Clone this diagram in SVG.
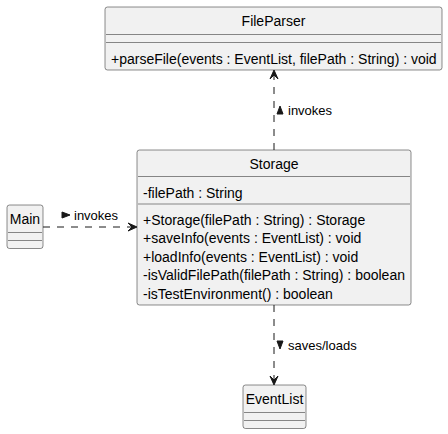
<svg xmlns="http://www.w3.org/2000/svg" width="448" height="434" viewBox="0 0 448 434">
<style>
.box{fill:#F1F1F1;stroke:#181818;stroke-width:0.5}
.sep{stroke:#181818;stroke-width:0.5}
.t{font-family:"Liberation Sans",Arial,sans-serif;font-size:14px;fill:#000}
.c{text-anchor:middle}
.lbl{font-family:"Liberation Sans",Arial,sans-serif;font-size:13px;fill:#000}
.dash{fill:none;stroke:#181818;stroke-width:1;stroke-dasharray:7,7}
.head{fill:#181818;stroke:#181818;stroke-width:1}
</style>
<rect width="448" height="434" fill="#FFFFFF"/>
<g id="FileParser">
<rect class="box" x="105" y="7" width="337" height="63" rx="2.5" ry="2.5"/>
<text class="t c" x="273.5" y="26">FileParser</text>
<line class="sep" x1="106" y1="34.5" x2="441" y2="34.5"/>
<line class="sep" x1="106" y1="42.5" x2="441" y2="42.5"/>
<text class="t" x="111" y="63.5">+parseFile(events : EventList, filePath : String) : void</text>
</g>
<g id="Storage">
<rect class="box" x="137" y="150" width="274" height="155" rx="2.5" ry="2.5"/>
<text class="t c" x="274" y="169">Storage</text>
<line class="sep" x1="138" y1="176.5" x2="410" y2="176.5"/>
<text class="t" x="143" y="197.5">-filePath : String</text>
<line class="sep" x1="138" y1="204" x2="410" y2="204"/>
<text class="t" x="143" y="225">+Storage(filePath : String) : Storage</text>
<text class="t" x="143" y="243.4">+saveInfo(events : EventList) : void</text>
<text class="t" x="143" y="261.9">+loadInfo(events : EventList) : void</text>
<text class="t" x="143" y="280.3">-isValidFilePath(filePath : String) : boolean</text>
<text class="t" x="143" y="298.8">-isTestEnvironment() : boolean</text>
</g>
<g id="Main">
<rect class="box" x="7" y="205" width="36" height="43.5" rx="2.5" ry="2.5"/>
<text class="t c" x="25" y="224">Main</text>
<line class="sep" x1="8" y1="232.5" x2="42" y2="232.5"/>
<line class="sep" x1="8" y1="240.5" x2="42" y2="240.5"/>
</g>
<g id="EventList">
<rect class="box" x="243" y="385" width="63" height="43.5" rx="2.5" ry="2.5"/>
<text class="t c" x="274.5" y="404">EventList</text>
<line class="sep" x1="244" y1="412.5" x2="305" y2="412.5"/>
<line class="sep" x1="244" y1="420.5" x2="305" y2="420.5"/>
</g>
<g id="connectors">
<path class="dash" d="M274,150 L274,71"/>
<polygon class="head" points="274,70 270,79 274,75 278,79"/>
<polygon class="head" points="277,114 280,106 283,114"/>
<text class="lbl" x="288" y="115">invokes</text>
<path class="dash" d="M43,227 L136,227"/>
<polygon class="head" points="137,227 128,223 132,227 128,231"/>
<polygon class="head" points="62,212 70,215 62,218"/>
<text class="lbl" x="74" y="220">invokes</text>
<path class="dash" d="M274,305 L274,384"/>
<polygon class="head" points="274,385 270,376 274,380 278,376"/>
<polygon class="head" points="277,341 283,341 280,349"/>
<text class="lbl" x="288" y="350">saves/loads</text>
</g>
</svg>
